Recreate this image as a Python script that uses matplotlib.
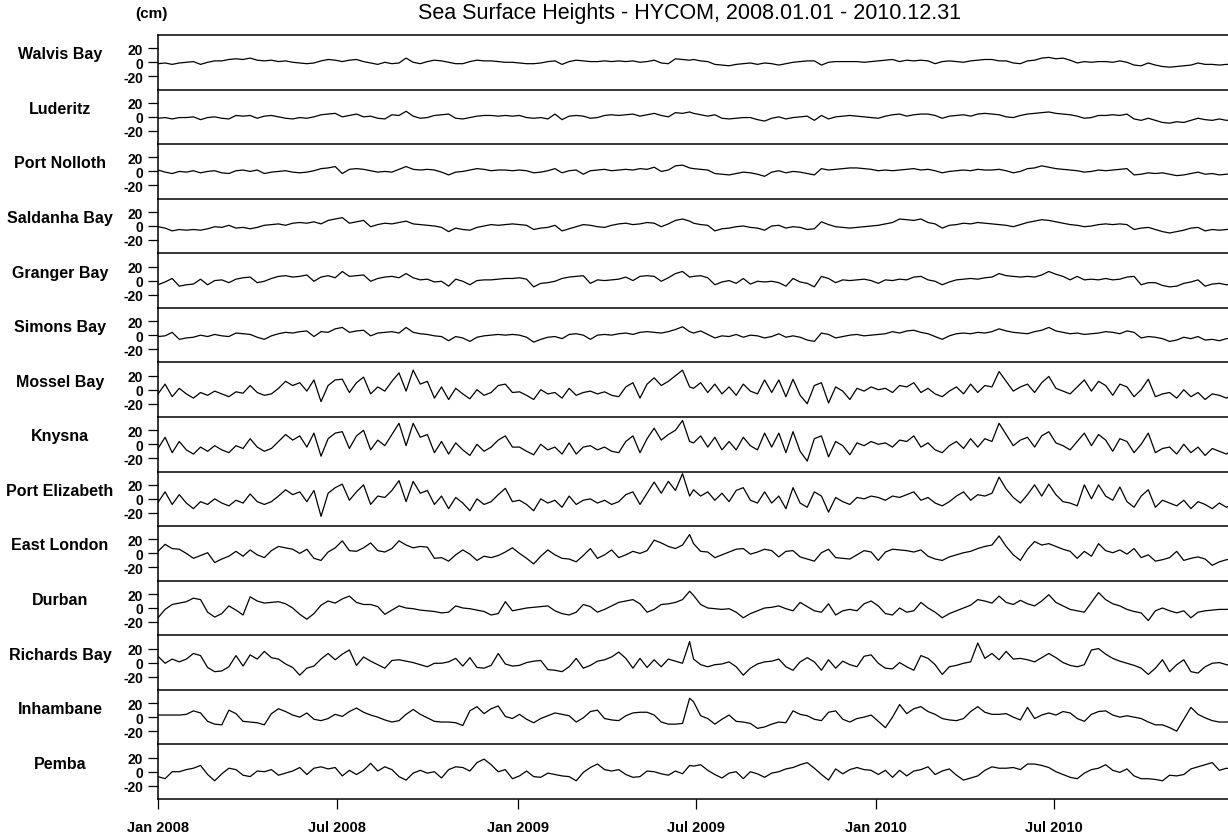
import pandas as pd
import matplotlib
matplotlib.use("Agg")
import matplotlib.pyplot as plt
import matplotlib.dates as mdates

plt.rcParams['font.family'] = ['Liberation Sans', 'DejaVu Sans']

# sample dates (two halves of the record)
dates_a = pd.date_range('2008-01-01', '2009-06-25', periods=76)
dates_b = pd.date_range('2009-06-29', '2011-01-14', periods=79)
dates = dates_a.append(dates_b)

stations = ["Walvis Bay", "Luderitz", "Port Nolloth", "Saldanha Bay", "Granger Bay",
            "Simons Bay", "Mossel Bay", "Knysna", "Port Elizabeth", "East London",
            "Durban", "Richards Bay", "Inhambane", "Pemba"]

# sea surface height (cm), one list per station
walvis_bay = [-2, -1, -3, -1, 0, 1, -3, 0, 2, 2, 4, 5, 4, 6, 3, 2, 3, 1, 2, 0, -1, -2, -1, 2, 4, 3, 1, 3, 4, 1,
              -1, -3, 0, -2, -1, 6, 0, -2, 1, 3, 2, 0, -2, -2, 1, 3, 2, 2, 1, 0, 0, -1, -2, -2, -1, 1, 2, -3, 1, 3,
              2, 1, 1, 2, 1, 2, 1, 2, 0, 1, 3, -1, -2, 5, 4, 3,
              4, 2, 1, -3, -4, -5, -3, -2, -1, -3, -1, -2, -4, -2, 0, 1, 2, 2, -4, 0, 1, 1, 1, 1, 0, 1, 2, 3, 4, 1,
              3, 2, 3, 2, -2, 1, 2, 1, 0, 2, 3, 4, 4, 2, 2, -1, -2, 2, 3, 6, 7, 5, 6, 3, -1, 1, 0, 1, 1, 0,
              2, 0, -4, -5, -1, -4, -6, -7, -6, -5, -4, -1, -3, -3, -4, -3, -3, -4, -2]
luderitz = [-2, -1, -3, -1, -1, 0, -4, -1, 0, -2, -3, 2, 1, 2, -2, 1, 2, 0, -2, -3, -1, -2, 0, 3, 4, 5, 0, 2, 4, 0,
            1, -2, -3, 3, 2, 8, 1, -2, -1, 2, 3, 4, -2, -3, -1, 1, 2, 2, 1, 2, 1, 2, -1, -2, -1, -3, 4, -4, 1, 2,
            1, -2, -1, 2, 3, 2, 3, 4, 1, 3, 5, 2, 0, 6, 5, 7,
            5, 3, 1, 3, -2, -3, -2, -1, -1, -4, -6, -2, 0, -3, -1, 0, 1, -5, 2, -3, 0, 1, 2, 1, 0, -1, -2, 1, 3, 4,
            1, 3, 4, 4, 2, -2, 1, 2, 3, 1, 4, 5, 4, 3, 0, -1, 2, 4, 5, 6, 7, 5, 4, 3, 1, -2, -1, 2, 2, 3,
            2, 4, -3, -5, -2, -5, -8, -9, -7, -8, -5, -2, -4, -5, -3, -5, -4, -4, -3]
port_nolloth = [2, -1, -3, 0, -1, 1, -2, 0, 1, -2, -3, 1, 2, 0, 2, -3, -1, 0, 1, -1, -2, -1, 1, 4, 5, 7, -3, 3, 4, 3,
                1, -1, 0, -1, 3, 7, 3, 2, 3, 2, -1, -5, -1, 0, 2, 4, 3, 1, 2, 2, 1, 2, 1, -2, -1, 1, 4, -2, 1, 2,
                -4, 1, 2, 3, 1, 2, 3, 2, 4, 3, 6, 0, 2, 8, 9, 5,
                4, 3, 2, -3, -4, -5, -3, -1, -2, -4, -7, -1, 1, -2, 0, -1, -3, -5, 4, 2, 3, 4, 5, 5, 4, 3, 1, 2, 1, 2,
                3, 4, 2, 3, 1, -2, 0, 1, 2, 1, 3, 2, 2, 3, 1, -2, 0, 4, 5, 8, 6, 4, 3, 2, 1, -1, 0, 2, 1, 2,
                3, 4, -5, -4, -2, -3, -2, -4, -6, -5, -3, -1, -4, -3, -5, -4, -3, -2, -3]
saldanha_bay = [-1, -3, -7, -5, -6, -5, -6, -4, -1, -2, 1, -3, -2, -4, -2, 1, 2, 3, 1, 4, 5, 4, 6, 3, 8, 10, 12, 4, 6, 8,
                -1, 2, 4, 3, 5, 7, 3, 2, 1, 0, -2, -8, -3, -5, -6, -2, 0, 2, 1, 2, 3, 2, 1, -5, -3, -2, 1, -7, -4, -1,
                2, 1, -1, -2, 1, 3, 4, 2, 3, 5, 4, -1, 3, 8, 10, 7,
                4, 2, 1, -7, -4, -3, -1, 0, -2, -3, -6, 0, 1, -3, -1, -2, -5, -4, 6, 2, -1, -2, -3, -2, -1, 0, 1, 3, 5, 10,
                9, 8, 10, 5, 3, -3, 1, 2, 4, 3, 5, 4, 3, 2, 1, -1, 2, 5, 7, 9, 8, 6, 4, 2, 1, -1, 0, 2, 3, 2,
                3, 2, -5, -3, -2, -5, -8, -10, -8, -6, -3, -2, -7, -5, -6, -5, -4, -5, -3]
granger_bay = [-6, -2, 3, -8, -6, -5, 2, -6, 0, 1, -3, 2, 4, 5, -3, -1, 3, 6, 7, 5, 6, 8, -1, 5, 7, 4, 13, 6, 7, 8,
               -1, 3, 5, 6, 4, 10, 4, 1, 2, -2, -1, -8, 2, -1, -6, 0, 1, 1, 2, 3, 3, 4, 2, -9, -4, -3, -1, 3, 5, 6,
               7, -4, 1, 0, 1, 2, 5, 0, 6, 7, 6, -1, 4, 10, 13, 5,
               6, 7, 4, -6, -2, 0, -4, 3, -5, -1, -2, -1, -3, -8, 3, -2, -4, -9, 6, 3, -3, 1, 0, 1, 2, 0, -4, 1, 0, 2,
               1, 5, 6, 1, -1, -6, -2, 1, 2, 3, 2, 4, 5, 10, 7, 6, 5, 6, 5, 8, 13, 9, 6, 1, 6, 1, 2, 1, 3, 1,
               2, 5, 6, -6, -3, -3, -7, -9, -8, -4, -2, 1, -8, -5, -4, -6, -4, -3, -4]
simons_bay = [-2, -1, 4, -6, -4, -3, 0, -2, 1, -1, -2, 3, 2, 1, -3, -6, -1, 2, 4, 3, 5, 6, -2, 5, 4, 9, 11, 4, 6, 7,
              -1, 3, 4, 5, 3, 11, 4, 2, 1, -1, -2, -8, -2, -4, -9, -3, -1, 0, 1, 0, 1, 0, -3, -10, -6, -3, -2, -5, 1, 2,
              0, -6, 0, 1, 0, 2, 3, 1, 4, 5, 4, 3, 5, 8, 12, 5,
              3, 6, 1, -4, -1, -2, 1, -3, 0, -1, -4, -2, 2, -3, -1, -3, -7, -9, 3, 1, -4, -2, 0, 1, -1, 0, 1, 2, 5, 3,
              6, 7, 4, 2, -2, -6, -1, 2, 3, 2, 4, 3, 5, 9, 6, 4, 3, 2, 5, 7, 11, 6, 4, 2, 3, 1, 2, 3, 5, 4,
              2, 6, 4, -4, -2, -3, -5, -9, -7, -3, -5, -2, -7, -6, -8, -5, -4, -4, -5]
mossel_bay = [-6, 8, -10, 2, -6, -12, -4, -8, -2, -6, -10, -3, -5, 6, -4, -8, -6, 2, 12, 6, 10, -2, 14, -17, 6, 14, 15, -4, 10, 18,
              -6, 4, -2, 12, 24, -2, 28, 8, 12, -12, 4, -14, 2, -6, -13, 0, -8, -4, 6, 8, -4, -3, -8, -14, 0, -6, -4, -12, 2, -8,
              -4, -2, -6, -3, -8, -10, 4, 10, -12, 8, 17, 6, 12, 20, 28, 4,
              2, 10, -4, 8, -6, 4, -8, 8, -2, -6, 14, -4, 14, -10, 15, -8, -20, 6, 10, -19, 4, -2, -14, 2, -2, 4, 0, 2, -4, 6,
              4, 10, -4, 2, -6, -10, -2, 4, -6, 8, -4, 6, 4, 26, 12, -2, 4, 8, -4, 10, 19, 2, -2, -6, 4, 14, -2, 12, 6, -8,
              8, 4, -10, 0, 15, -10, -6, -4, -12, 0, -10, -4, -14, -6, -8, -12, -6, -14, -8]
knysna = [-6, 10, -12, 4, -8, -14, -4, -10, -2, -8, -12, -2, -6, 8, -4, -10, -6, 4, 14, 6, 12, -4, 16, -17, 8, 16, 18, -6, 12, 20,
          -8, 6, -2, 14, 30, -2, 30, 10, 14, -12, 4, -14, 2, -8, -16, 0, -10, -4, 6, 12, -4, -4, -10, -15, 0, -8, -4, -14, 2, -14,
          -4, -2, -8, -4, -10, -12, 4, 12, -12, 8, 23, 6, 14, 20, 34, 4,
          2, 12, -4, 10, -8, 4, -8, 10, -2, -8, 16, -4, 16, -12, 18, -10, -24, 8, 12, -18, 4, -2, -15, 2, -2, 4, 0, 2, -4, 6,
          4, 12, -4, 2, -8, -12, -2, 4, -6, 8, -4, 8, 4, 30, 14, -2, 6, 10, -4, 12, 18, 2, -2, -8, 4, 16, -2, 14, 6, -10,
          8, 4, -12, 0, 16, -12, -6, -4, -14, 0, -12, -4, -16, -6, -10, -14, -6, -15, -10]
port_elizabeth = [-5, 10, -8, 6, -6, -14, -4, -8, 0, -6, -10, -2, -6, 7, -4, -8, -4, 4, 13, 6, 10, -4, 12, -25, 8, 16, 21, -2, 10, 20,
                  -8, 4, 2, 12, 26, -4, 25, 8, 12, -8, 4, -14, 2, -6, -17, 0, -8, -4, 6, 15, -4, -2, -8, -17, 0, -6, -2, -12, 4, -8,
                  -2, 0, -6, -2, -8, -4, 6, 10, -8, 8, 24, 8, 25, 12, 36, 4,
                  13, 4, 10, -2, 8, -4, 12, 16, -2, -6, 10, -6, 4, -14, 16, -6, -12, 10, 4, -19, 2, -4, -8, 2, 0, 4, 2, -2, 4, 2,
                  6, 10, -2, 2, -6, -10, -4, 4, 10, -2, 6, 4, 8, 31, 14, 2, -6, 6, 20, 4, 21, 6, -4, -6, -10, 20, 0, 20, 4, -2,
                  17, -4, -12, 4, 13, -12, -2, -6, -10, -2, -14, -4, -8, -14, -6, -12, -8, -16, -10]
east_london = [3, 13, 7, 6, 0, -7, -3, 1, -13, -8, -4, 3, -4, 5, -2, -6, 4, 10, 8, 6, 0, 6, -7, -10, 2, 8, 18, 4, 3, 8,
               15, 4, 2, 7, 18, 12, 8, 10, 9, -7, -6, -11, -2, 5, -1, -10, -4, -6, -3, 2, 8, 0, -7, -15, -4, 5, -2, -7, -8, -12,
               -3, 7, -7, -2, 5, -6, -2, 3, 0, 4, 19, 15, 10, 7, 12, 27,
               14, 3, 2, -6, -2, 2, 6, 7, -1, 2, 6, 4, -5, 3, 4, -5, -8, -11, 1, 6, -6, -7, -8, -2, 4, 2, -10, 2, 6, 5,
               4, 2, 5, -4, -8, -10, -5, -2, 1, 3, 7, 10, 12, 25, 10, -2, -10, 6, 17, 12, 14, 10, 6, 3, -7, 3, -4, 14, 4, 1,
               5, -1, 7, -6, -2, -11, -9, -6, 3, -10, -7, -5, -8, -17, -12, -9, -7, -5, -8]
durban = [-14, -2, 5, 7, 9, 14, 12, -6, -13, -8, 3, -3, -10, 16, 10, 7, 8, 9, 6, 0, -9, -16, -8, 4, 10, 7, 13, 17, 8, 5,
          5, 2, -9, -3, 3, 0, -1, -3, -4, -5, -7, -6, 3, 0, -1, -3, -5, -10, -8, 9, -4, -2, 0, 1, 2, 3, -4, -8, -10, -6,
          5, 2, -6, -2, 3, 8, 10, 12, 6, -6, -2, 5, 6, 8, 12, 24,
          18, 5, 0, -1, -2, -1, -6, -14, -8, -4, 0, 1, 3, -1, -4, 8, 2, -4, -6, 6, -10, -4, -2, -4, 6, 10, 3, -8, -10, 0,
          -6, -4, 8, 0, -6, -14, -8, -4, 0, 4, 12, 10, 7, 17, 8, 5, 11, 6, 3, 10, 19, 8, 3, -2, -4, -6, 8, 22, 12, 6,
          3, -2, -5, -7, -18, -4, 0, -4, -7, -4, -14, -6, -4, -3, -2, -2, -1, -2, -2]
richards_bay = [9, -1, 5, 1, 5, 13, 10, -7, -13, -12, -6, 10, -5, 11, 5, 16, 7, 5, -2, -7, -18, -8, -5, 5, 13, 4, 12, 18, -4, 8,
                2, -3, -8, 3, 4, 2, 0, -3, -6, -1, -1, 1, 6, -5, 7, -7, -8, -4, 13, -2, -5, -4, 0, 2, 3, -10, -11, -13, -6, 6,
                -8, -4, 2, 4, 8, 15, 6, -8, 6, -7, 4, -6, 5, 2, -1, 30,
                5, -3, -6, -3, -2, 1, -6, -18, -8, -2, 1, 2, 5, -6, -11, 1, 7, 1, -11, 4, -8, 2, -3, -6, 9, 11, -1, -8, -9, 0,
                -6, -11, 10, 6, -3, -17, -6, -4, -1, 1, 28, 6, 13, 4, 16, 5, 6, 4, 1, 7, 13, 7, 0, -4, -6, -3, 18, 20, 12, 6,
                2, -1, -4, -8, -17, -8, 4, -13, -3, 4, -13, -15, -6, -1, 0, -3, -6, -4, -3]
inhambane = [3, 3, 3, 3, 4, 9, 6, -6, -10, -11, 10, 5, -6, -7, -8, -11, 5, 12, 8, 3, 0, 6, -3, -5, -2, 4, 1, 8, 13, 7,
             3, 0, -4, -7, -5, 4, 11, 4, -1, -6, -7, -7, -8, -12, 9, 15, 5, 12, 16, 1, -2, 4, -3, -8, -2, 2, 6, 4, 2, -7,
             -1, 8, 10, -2, -4, -5, 2, 6, 7, 7, 3, -7, -10, -10, -9, 27,
             22, 2, -2, -10, -3, 3, -6, -7, -9, -16, -14, -10, -7, -8, 9, 4, 2, -3, -5, 7, 9, -3, -7, -2, 0, 3, -6, -15, 0, 18,
             5, 12, 15, 8, 4, -2, -4, -5, -2, 8, 15, 7, 4, 4, 5, 0, -4, 14, -2, 3, 6, 3, 8, 6, -2, -6, 4, 8, 9, 3,
             0, 2, 0, -2, -7, -11, -11, -15, -20, -3, 14, 4, -1, -5, -7, -7, -6, -5, -5]
pemba = [-7, -10, 0, 0, 3, 5, 9, -4, -13, -3, 5, 3, -5, -7, 1, 0, 3, -5, -2, 1, 6, -4, 5, 7, 4, 6, -6, 2, -4, 2,
         12, 1, 7, 3, -7, -12, -2, 2, -2, 0, -9, 3, 7, 6, 1, 13, 18, 10, 0, 3, -10, -6, 1, -7, -8, -2, -4, -6, -7, -13,
         -1, 6, 11, 3, 1, 3, -4, -8, -7, 1, 0, -3, -5, 1, -3, 9,
         8, 10, 2, -4, -9, -2, 0, -10, 0, -3, -8, -2, 0, 4, 6, 10, 13, 5, -4, -12, 4, -3, 3, 6, 3, 2, -4, 2, -8, 2,
         -6, 1, 3, 7, -4, 1, 4, -5, -12, -9, -6, 2, 7, 5, 5, 6, 3, 11, 11, 9, 6, 0, -4, -8, -10, -2, 3, 5, 10, 2,
         -1, 4, -6, -10, -10, -11, -13, -5, -6, -4, 4, 7, 10, 13, 2, 5, 2, -3, -2]

series = [walvis_bay, luderitz, port_nolloth, saldanha_bay, granger_bay, simons_bay, mossel_bay,
          knysna, port_elizabeth, east_london, durban, richards_bay, inhambane, pemba]

W, H = 1228, 837
fig = plt.figure(figsize=(W / 100, H / 100), dpi=100)

top_px, bot_px = 36, 800
left_px, right_px = 158, 1234
ph = (bot_px - top_px) / len(stations)

for i, (name, vals) in enumerate(zip(stations, series)):
    y0 = H - top_px - (i + 1) * ph
    ax = fig.add_axes([left_px / W, y0 / H, (right_px - left_px) / W, ph / H])
    ax.plot(dates, vals, color='black', lw=0.9)
    ax.set_ylim(-39, 39)
    ax.set_xlim(pd.Timestamp('2008-01-01'), pd.Timestamp('2010-12-31'))
    ax.set_yticks([-20, 0, 20])
    ax.set_yticklabels(['-20', '0', '20'], fontsize=10, fontweight='bold')
    ax.tick_params(axis='y', length=7.2, width=0.9, pad=3.5)
    for s in ['left', 'top', 'bottom']:
        ax.spines[s].set_linewidth(1.1)
    ax.spines['right'].set_visible(False)
    last = i == len(stations) - 1
    ax.spines['bottom'].set_visible(last)
    if last:
        ax.xaxis.set_major_locator(mdates.MonthLocator(bymonth=[1, 7]))
        ax.xaxis.set_major_formatter(mdates.DateFormatter('%b %Y'))
        ax.tick_params(axis='x', length=7.2, width=0.9, pad=8)
        for lab in ax.get_xticklabels():
            lab.set_fontsize(10.5)
            lab.set_fontweight('bold')
    else:
        ax.set_xticks([])
    fig.text(60 / W, (y0 + ph / 2 + 8.5) / H, name, ha='center', va='center',
             fontsize=11.5, fontweight='bold')

fig.text(690 / W, 1 - 14 / H, "Sea Surface Heights - HYCOM, 2008.01.01 - 2010.12.31",
         ha='center', va='center', fontsize=15.5)
fig.text(151 / W, 1 - 14 / H, "(cm)", ha='center', va='center', fontsize=11, fontweight='bold')

fig.savefig('out.png', dpi=100)
